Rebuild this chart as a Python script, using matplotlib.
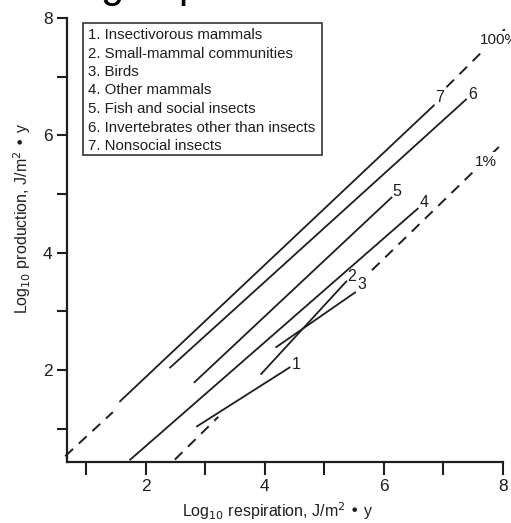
import matplotlib
matplotlib.use('Agg')
import matplotlib.pyplot as plt
from matplotlib.patches import Rectangle

plt.rcParams['font.family'] = ['Liberation Sans', 'DejaVu Sans']

# ---- data ----
groups = ["1. Insectivorous mammals",
          "2. Small-mammal communities",
          "3. Birds",
          "4. Other mammals",
          "5. Fish and social insects",
          "6. Invertebrates other than insects",
          "7. Nonsocial insects"]
group_ids = ["1", "2", "3", "4", "5", "6", "7"]

# log10 respiration (x) and log10 production (y) at both ends of each regression line
resp_start = [2.85, 3.93, 4.18, 1.73, 2.81, 2.40, 1.56]
prod_start = [1.03, 1.92, 2.38, 0.46, 1.78, 2.03, 1.455]
resp_end = [4.43, 5.38, 5.53, 6.58, 6.14, 7.39, 6.85]
prod_end = [2.05, 3.52, 3.33, 4.76, 4.95, 6.62, 6.52]
label_resp = [4.52, 5.46, 5.63, 6.68, 6.21, 7.49, 6.93]
label_prod = [2.09, 3.59, 3.45, 4.86, 5.05, 6.69, 6.64]

# efficiency reference lines (dashed, drawn in two pieces each)
eff100_resp = [[0.65, 1.45], [7.05, 8.03]]
eff100_prod = [[0.53, 1.28], [6.82, 7.81]]
eff1_resp = [[2.49, 3.22], [5.80, 8.00]]
eff1_prod = [[0.47, 1.20], [3.70, 5.87]]
eff_labels = ["100%", "1%"]
eff_label_resp = [7.61, 7.53]
eff_label_prod = [7.62, 5.55]

x_ticks = [1, 2, 3, 4, 5, 6, 7, 8]
x_ticklabels = ["", "2", "", "4", "", "6", "", "8"]
y_ticks = [1, 2, 3, 4, 5, 6, 7, 8]
y_ticklabels = ["", "2", "", "4", "", "6", "", "8"]

ink = "#1e1e1e"

fig = plt.figure(figsize=(5.11, 5.23), dpi=100)
ax = fig.add_axes([67 / 511, 61 / 523, 436 / 511, 444 / 523])
ax.set_xlim(0.68, 8.0)
ax.set_ylim(0.43, 8.0)

# regression lines
for xs, ys, xe, ye, lid, lx, ly in zip(resp_start, prod_start, resp_end, prod_end,
                                       group_ids, label_resp, label_prod):
    ax.plot([xs, xe], [ys, ye], color=ink, lw=1.3, solid_capstyle='butt')
    ax.text(lx, ly, lid, fontsize=11.5, ha='center', va='center', color=ink)

# dashed efficiency lines
for segs_x, segs_y in ((eff100_resp, eff100_prod), (eff1_resp, eff1_prod)):
    for sx, sy in zip(segs_x, segs_y):
        ax.plot(sx, sy, color=ink, lw=1.4, dashes=(5.5, 4.0), clip_on=False)
for t, lx, ly in zip(eff_labels, eff_label_resp, eff_label_prod):
    ax.text(lx, ly, t, fontsize=11, ha='left', va='center', color=ink, clip_on=False,
            zorder=5, bbox=dict(boxstyle='square,pad=0.15', fc='white', ec='none'))

# legend box
ax.add_patch(Rectangle((0.037, 0.691), 0.548, 0.298, transform=ax.transAxes,
                       fill=False, lw=1.2, ec='#333333'))
for i, g in enumerate(groups):
    py = 35 + 18.5 * i
    ax.text(0.048, (462 - py) / 444, g, transform=ax.transAxes, fontsize=10.8,
            ha='left', va='center', color=ink)

# axes styling
for s in ['top', 'right']:
    ax.spines[s].set_visible(False)
for s in ['left', 'bottom']:
    ax.spines[s].set_linewidth(1.6)
    ax.spines[s].set_color(ink)
ax.set_xticks(x_ticks)
ax.set_xticklabels(x_ticklabels)
ax.set_yticks(y_ticks)
ax.set_yticklabels(y_ticklabels)
ax.tick_params(axis='x', length=9, width=1.5, pad=3, labelsize=12.5, colors=ink)
ax.tick_params(axis='y', length=7.5, width=1.5, pad=3, labelsize=12.5, colors=ink)

fig.text(278 / 511, 12 / 523, r"Log$_{10}$ respiration, J/m$^2$ • y", fontsize=11.5,
         ha='center', va='center', color=ink)
fig.text(22 / 511, 305 / 523, r"Log$_{10}$ production, J/m$^2$ • y", fontsize=11.5,
         ha='center', va='center', rotation=90, color=ink)

# clipped heading fragments at the very top of the image
fig.text(112 / 511, 1.006, "g", fontsize=30, ha='center', va='baseline', color='black')
fig.text(190 / 511, 1.006, "p", fontsize=30, ha='center', va='baseline', color='black')

fig.savefig("out.png", dpi=100, facecolor='white')
